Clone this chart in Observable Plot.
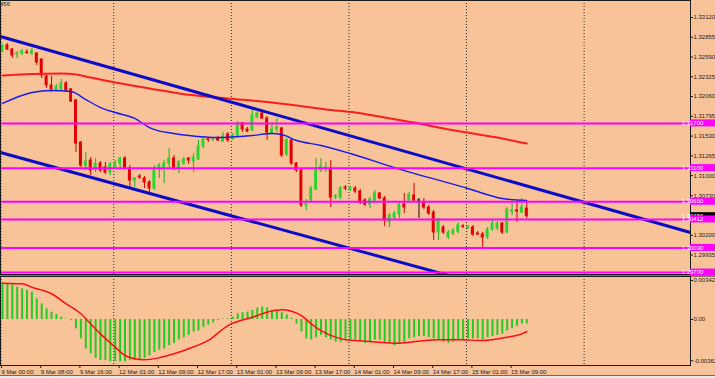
<!DOCTYPE html>
<html><head><meta charset="utf-8">
<script src="https://cdn.jsdelivr.net/npm/d3@7"></script>
<script src="https://cdn.jsdelivr.net/npm/@observablehq/plot@0.6"></script>
<style>
html,body{margin:0;padding:0;background:#F8C398;}
#wrap{position:relative;width:715px;height:378px;overflow:hidden;background:#F8C398;font-family:"Liberation Sans",Arial,sans-serif;}
#main{position:absolute;left:0;top:0;}
#macd{position:absolute;left:0;top:276px;}
#sep{position:absolute;left:0;top:274.5px;width:715px;height:2px;background:#8d7262;}
#foot{position:absolute;left:0;top:375px;width:715px;height:3px;background:#e9e9e9;border-top:1px solid #6b6b6b;}
#title{position:absolute;left:0;top:1px;font-size:6px;line-height:7px;color:#222;}
</style></head>
<body>
<div id="wrap">
  <div id="main"></div>
  <div id="sep"></div>
  <div id="macd"></div>
  <div id="title">456</div>
  <div id="foot"></div>
</div>
<script>
// ---------- DATA (hourly candles, bar index 0 = 9 Mar 00:00) ----------
const openP = [1.32678,1.32745,1.32691,1.32624,1.32637,1.32651,1.32637,1.32637,1.32557,1.32329,
1.32208,1.32141,1.32155,1.32235,1.32155,1.32007,1.31444,1.31135,1.31202,1.31081,
1.31162,1.31108,1.31041,1.31108,1.31162,1.31229,1.31095,1.30934,1.30988,1.30961,
1.30907,1.30827,1.31081,1.31108,1.31162,1.31229,1.31095,1.31162,1.31229,1.31189,
1.31216,1.31390,1.31484,1.31477,1.31497,1.31457,1.31551,1.31484,1.31538,1.31699,
1.31618,1.31605,1.31779,1.31833,1.31766,1.31564,1.31618,1.31632,1.31283,1.31471,
1.31162,1.31068,1.30599,1.30666,1.30813,1.31068,1.31081,1.31095,1.30706,1.30706,
1.30840,1.30813,1.30827,1.30787,1.30666,1.30612,1.30666,1.30760,1.30693,1.30371,
1.30438,1.30478,1.30612,1.30666,1.30733,1.30666,1.30639,1.30572,1.30505,1.30237,
1.30304,1.30170,1.30223,1.30250,1.30317,1.30297,1.30304,1.30223,1.30210,1.30170,
1.30277,1.30290,1.30357,1.30237,1.30518,1.30532,1.30505,1.30559];
const highP = [1.32758,1.32771,1.32704,1.32664,1.32691,1.32691,1.32704,1.32651,1.32570,1.32369,
1.32329,1.32222,1.32289,1.32262,1.32168,1.32020,1.31457,1.31310,1.31243,1.31229,
1.31189,1.31176,1.31176,1.31202,1.31243,1.31256,1.31135,1.30974,1.31015,1.30988,
1.30934,1.31135,1.31162,1.31202,1.31363,1.31270,1.31202,1.31243,1.31243,1.31296,
1.31471,1.31511,1.31511,1.31511,1.31524,1.31578,1.31578,1.31564,1.31725,1.31712,
1.31645,1.31873,1.31860,1.31860,1.31792,1.31712,1.31766,1.31645,1.31497,1.31484,
1.31176,1.31081,1.30679,1.30854,1.31229,1.31229,1.31176,1.31202,1.30746,1.30854,
1.30867,1.30854,1.30854,1.30813,1.30693,1.30706,1.30800,1.30773,1.30720,1.30491,
1.30518,1.30639,1.30760,1.30773,1.30894,1.30693,1.30693,1.30599,1.30532,1.30424,
1.30331,1.30264,1.30290,1.30371,1.30344,1.30331,1.30331,1.30250,1.30237,1.30304,
1.30398,1.30384,1.30371,1.30572,1.30666,1.30666,1.30693,1.30666];
const lowP = [1.32651,1.32678,1.32570,1.32570,1.32610,1.32624,1.32610,1.32476,1.32302,1.32168,
1.32114,1.32128,1.32141,1.32114,1.31980,1.31310,1.31108,1.31068,1.31001,1.31041,
1.31041,1.31015,1.31001,1.31095,1.31108,1.31095,1.30840,1.30840,1.30947,1.30827,
1.30773,1.30800,1.30961,1.30894,1.31108,1.31068,1.31028,1.31135,1.31149,1.31041,
1.31202,1.31363,1.31444,1.31457,1.31457,1.31444,1.31444,1.31471,1.31524,1.31578,
1.31578,1.31591,1.31766,1.31752,1.31471,1.31551,1.31578,1.31243,1.31256,1.31135,
1.31041,1.30572,1.30532,1.30652,1.30800,1.31041,1.31041,1.30572,1.30679,1.30679,
1.30800,1.30787,1.30760,1.30612,1.30585,1.30559,1.30652,1.30679,1.30317,1.30304,
1.30411,1.30424,1.30491,1.30652,1.30639,1.30424,1.30545,1.30465,1.30130,1.30130,
1.30210,1.30143,1.30196,1.30223,1.30290,1.30277,1.30183,1.30196,1.30036,1.30143,
1.30250,1.30264,1.30210,1.30223,1.30465,1.30371,1.30491,1.30424];
const closeP = [1.32731,1.32691,1.32610,1.32637,1.32664,1.32644,1.32664,1.32517,1.32342,1.32208,
1.32155,1.32195,1.32235,1.32141,1.31994,1.31430,1.31135,1.31189,1.31068,1.31162,
1.31068,1.31041,1.31149,1.31162,1.31229,1.31108,1.30934,1.30961,1.30974,1.30907,
1.30827,1.31081,1.31135,1.31162,1.31229,1.31095,1.31176,1.31216,1.31202,1.31243,
1.31390,1.31484,1.31477,1.31484,1.31471,1.31524,1.31471,1.31538,1.31699,1.31618,
1.31591,1.31806,1.31833,1.31766,1.31578,1.31618,1.31645,1.31270,1.31471,1.31162,
1.31068,1.30599,1.30639,1.30827,1.31095,1.31122,1.31108,1.30706,1.30720,1.30827,
1.30827,1.30827,1.30787,1.30639,1.30612,1.30679,1.30760,1.30693,1.30398,1.30465,
1.30491,1.30612,1.30572,1.30746,1.30666,1.30666,1.30572,1.30491,1.30237,1.30398,
1.30237,1.30237,1.30264,1.30331,1.30311,1.30304,1.30210,1.30210,1.30170,1.30277,
1.30357,1.30357,1.30237,1.30545,1.30532,1.30518,1.30572,1.30456];

// moving averages (read at selected bars)
const slowMaBars = [0,6,12,15,18,23,30,36,46,53,60,66,72,78,84,90,96,102,107];
const slowMaVals = [1.32342,1.32362,1.32369,1.32356,1.32315,1.32248,1.32168,1.32101,1.32034,1.31994,1.31940,1.31886,1.31846,1.31779,1.31712,1.31632,1.31564,1.31497,1.31430];
const fastMaBars = [0,6,10,14,17,20,23,27,30,35,38,44,51,55,57,60,65,71,80,95,102,107];
const fastMaVals = [1.31967,1.32114,1.32141,1.32128,1.32020,1.31913,1.31846,1.31766,1.31645,1.31564,1.31538,1.31511,1.31538,1.31564,1.31551,1.31471,1.31404,1.31296,1.31108,1.30827,1.30693,1.30666];

// channel trendlines (anchor bars and prices)
const upperLineBars = [-1, 141];
const upperLinePrices = [1.32876, 1.30226];
const lowerLineBars = [-1, 100];
const lowerLinePrices = [1.31320, 1.29500];

// horizontal levels
const levels = [1.31700, 1.31100, 1.30650, 1.30412, 1.30030, 1.29700];
const lastPrice = 1.30456;

// price axis ticks
const priceTicks = [1.33120,1.32855,1.32590,1.32325,1.32060,1.31795,1.31530,1.31265,1.31000,1.30730,1.30200,1.29935];

// MACD histogram per bar
const macdVals = [
0.00319,0.00313,0.00304,0.00284,0.00269,0.00255,0.00240,0.00181,0.00138,0.00094,
0.00064,0.00044,0.00020,0.00003,-0.00010,-0.00082,-0.00170,-0.00260,-0.00300,-0.00340,
-0.00360,-0.00360,-0.00370,-0.00370,-0.00370,-0.00370,-0.00360,-0.00360,-0.00350,-0.00340,
-0.00320,-0.00290,-0.00270,-0.00260,-0.00230,-0.00210,-0.00180,-0.00160,-0.00140,-0.00110,
-0.00100,-0.00070,-0.00050,-0.00030,-0.00010,0.00003,0.00006,0.00020,0.00050,0.00060,
0.00064,0.00080,0.00100,0.00110,0.00100,0.00080,0.00080,0.00060,0.00040,0.00010,
-0.00040,-0.00110,-0.00170,-0.00180,-0.00160,-0.00140,-0.00160,-0.00180,-0.00200,-0.00200,
-0.00180,-0.00180,-0.00180,-0.00190,-0.00210,-0.00200,-0.00180,-0.00180,-0.00200,-0.00210,
-0.00230,-0.00210,-0.00200,-0.00170,-0.00160,-0.00150,-0.00150,-0.00160,-0.00170,-0.00180,
-0.00200,-0.00210,-0.00200,-0.00180,-0.00180,-0.00170,-0.00170,-0.00170,-0.00180,-0.00160,
-0.00150,-0.00140,-0.00130,-0.00100,-0.00080,-0.00060,-0.00040,-0.00040];
// MACD signal line
const signalBars = [0,4,6,10,13,16,18,20,23,25,27,29,32,35,38,42,46,51,54,57,59,61,63,65,68,70,74,81,85,89,93,98,100,103,106,107];
const signalVals = [0.00319,0.00313,0.00283,0.00226,0.00138,0.00050,-0.00038,-0.00126,-0.00243,-0.00316,-0.00345,-0.00354,-0.00336,-0.00301,-0.00257,-0.00184,-0.00053,0.00020,0.00064,0.00085,0.00073,0.00035,-0.00038,-0.00097,-0.00155,-0.00178,-0.00190,-0.00208,-0.00190,-0.00178,-0.00178,-0.00184,-0.00178,-0.00155,-0.00126,-0.00105];
const macdTicks = [0.003423, 0, -0.00362];
const macdTickLabels = ["0.003423", "0.00", "-0.00362"];

// time axis
const timeLabelBars = [0,8,16,24,32,40,48,56,64,72,80,88,96,104];
const timeLabels = ["9 Mar 00:00","9 Mar 08:00","9 Mar 16:00","12 Mar 01:00","12 Mar 09:00","12 Mar 17:00","13 Mar 01:00","13 Mar 09:00","13 Mar 17:00","14 Mar 01:00","14 Mar 09:00","14 Mar 17:00","15 Mar 01:00","15 Mar 09:00"];
// day separator grid (bar units)
const gridBars = [-0.3, 22.7, 46.7, 70.7, 94.7, 118.7];

// ---------- build ----------
const candles = openP.map((o, i) => ({i, o, h: highP[i], l: lowP[i], c: closeP[i]}));
const bodyColor = d => d.c > d.o ? "#2bd62b" : d.c < d.o ? "#e00000" : "#111111";
const wickColor = d => d.c > d.o ? "#1fae1f" : d.c < d.o ? "#d00000" : "#111111";
const slowMa = slowMaBars.map((b, k) => ({i: b, v: slowMaVals[k]}));
const fastMa = fastMaBars.map((b, k) => ({i: b, v: fastMaVals[k]}));
const upperLine = upperLineBars.map((b, k) => ({i: b, v: upperLinePrices[k]}));
const lowerLine = lowerLineBars.map((b, k) => ({i: b, v: lowerLinePrices[k]}));
const macd = macdVals.map((v, i) => ({i, v}));
const signal = signalBars.map((b, k) => ({i: b, v: signalVals[k]}));

const W = 715, PLOT_RIGHT = 25;
const FONT = "'Liberation Sans', Arial, sans-serif";
const xScale = {domain: [-0.408, 140.41], label: null};
const baseStyle = {background: "transparent", fontFamily: FONT, fontSize: "6px", color: "#1c1c1c", overflow: "visible"};
const hasAxisMarks = typeof Plot.axisY === "function";

const mainMarks = [
  Plot.ruleX(gridBars, {x: d => d, stroke: "#2b2b2b", strokeDasharray: "1,2", strokeWidth: 1}),
  Plot.ruleX(candles, {x: "i", y1: "l", y2: "h", stroke: wickColor, strokeWidth: 1}),
  Plot.rect(candles, {x1: d => d.i - 0.3, x2: d => d.i + 0.3, y1: d => Math.min(d.o, d.c), y2: d => Math.max(d.o, d.c), fill: bodyColor, insetTop: -0.5, insetBottom: -0.5}),
  Plot.line(slowMa, {x: "i", y: "v", stroke: "#ff1e1e", strokeWidth: 2, curve: "monotone-x"}),
  Plot.line(fastMa, {x: "i", y: "v", stroke: "#1a1ae8", strokeWidth: 1.4, curve: "monotone-x"}),
  Plot.line(upperLine, {x: "i", y: "v", stroke: "#0c0cc8", strokeWidth: 3, clip: true}),
  Plot.line(lowerLine, {x: "i", y: "v", stroke: "#0c0cc8", strokeWidth: 3, clip: true}),
  Plot.ruleY(levels, {y: d => d, stroke: "#ff00ff", strokeWidth: 2}),
  Plot.frame({stroke: "#1c1c1c"})
];
if (hasAxisMarks) mainMarks.push(Plot.axisY(priceTicks, {anchor: "right", tickSize: 2, tickPadding: 1, tickFormat: d => d.toFixed(5), label: null}));

const mainChart = Plot.plot({
  width: W, height: 275,
  marginLeft: 0, marginRight: PLOT_RIGHT, marginTop: 0, marginBottom: 1,
  x: {...xScale, axis: null},
  y: {domain: [1.29674, 1.33348], label: null, ...(hasAxisMarks ? {} : {axis: "right", ticks: priceTicks, tickFormat: d => d.toFixed(5), tickSize: 2, tickPadding: 1})},
  color: {type: "identity"},
  style: baseStyle,
  marks: mainMarks
});
document.getElementById("main").appendChild(mainChart);

// price label boxes at the right axis, placed through the plot's own scales
(function () {
  const ys = mainChart.scale("y");
  const xs = mainChart.scale("x");
  const yOf = ys.apply ? (v => ys.apply(v)) : (v => ys.range[0] + (v - ys.domain[0]) / (ys.domain[1] - ys.domain[0]) * (ys.range[1] - ys.range[0]));
  const xRight = xs.range[1];
  const svg = d3.select(mainChart);
  const g = svg.append("g").attr("font-size", "6px").attr("font-family", FONT);
  function box(v, fill, color) {
    const y = yOf(v);
    g.append("rect").attr("x", xRight).attr("y", y - 3.5).attr("width", W - xRight).attr("height", 7).attr("fill", fill);
    g.append("text").attr("x", xRight + 2.5).attr("y", y).attr("dy", "0.35em").attr("fill", color).text(v.toFixed(5));
  }
  box(lastPrice, "#000000", "#ffffff");
  levels.forEach(v => box(v, "#ff00ff", "#ffffff"));
})();

const macdMarks = [
  Plot.ruleX(gridBars, {x: d => d, stroke: "#2b2b2b", strokeDasharray: "1,2", strokeWidth: 1}),
  Plot.ruleX(macd, {x: "i", y1: 0, y2: "v", stroke: "#22cc22", strokeWidth: 2}),
  Plot.line(signal, {x: "i", y: "v", stroke: "#ff1010", strokeWidth: 1.5, curve: "monotone-x"}),
  Plot.frame({stroke: "#1c1c1c"})
];
if (hasAxisMarks) {
  macdMarks.push(Plot.axisY(macdTicks, {anchor: "right", tickSize: 2, tickPadding: 1, tickFormat: d => macdTickLabels[macdTicks.indexOf(d)], label: null}));
  macdMarks.push(Plot.axisX(timeLabelBars, {anchor: "bottom", tickSize: 3, tickPadding: 1, textAnchor: "start", dx: -1, tickFormat: d => timeLabels[timeLabelBars.indexOf(d)], label: null}));
}
const macdChart = Plot.plot({
  width: W, height: 102,
  marginLeft: 0, marginRight: PLOT_RIGHT, marginTop: 0, marginBottom: 13,
  x: {...xScale, ...(hasAxisMarks ? {} : {ticks: timeLabelBars, tickFormat: d => timeLabels[timeLabelBars.indexOf(d)], tickSize: 3})},
  y: {domain: [-0.004037, 0.003774], label: null, ...(hasAxisMarks ? {} : {axis: "right", ticks: macdTicks, tickFormat: d => macdTickLabels[macdTicks.indexOf(d)], tickSize: 2})},
  style: baseStyle,
  marks: macdMarks
});
document.getElementById("macd").appendChild(macdChart);
</script>
</body></html>
